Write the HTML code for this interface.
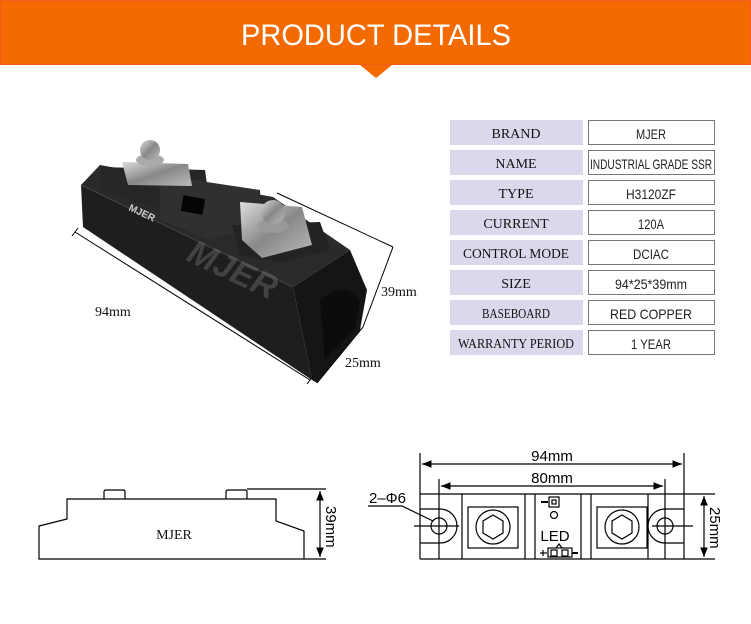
<!DOCTYPE html>
<html><head><meta charset="utf-8"><style>
html,body{margin:0;padding:0;background:#fff;}
svg{display:block;}
.lbl{font-family:"Liberation Serif",serif;font-size:14px;fill:#111;}
.val{font-family:"Liberation Sans",sans-serif;font-size:14px;fill:#222;}
.dim{font-family:"Liberation Sans",sans-serif;font-size:15px;fill:#000;}
</style></head><body>
<svg width="751" height="624" viewBox="0 0 751 624" xmlns="http://www.w3.org/2000/svg">
<defs>
<marker id="ar" viewBox="0 0 10 10" refX="10" refY="5" markerWidth="8" markerHeight="8" orient="auto-start-reverse"><path d="M0,1 L10,5 L0,9 z" fill="#000"/></marker>
<linearGradient id="met" x1="0" y1="0" x2="1" y2="1"><stop offset="0" stop-color="#ddd"/><stop offset="0.5" stop-color="#888"/><stop offset="1" stop-color="#bbb"/></linearGradient>
</defs>
<rect x="0" y="0" width="751" height="65" fill="#f26a00"/>
<rect x="0.5" y="0.5" width="750" height="64" fill="none" stroke="#f55a20" stroke-width="1"/>
<polygon points="360,65 392,65 376,78" fill="#f26a00"/>
<text x="376" y="45" text-anchor="middle" font-family="Liberation Sans,sans-serif" font-size="30" fill="#fff" textLength="270" lengthAdjust="spacingAndGlyphs">PRODUCT  DETAILS</text>

<polygon points="81,185 100,165 273,197 350,250 293,287" fill="#2a2a2a"/>
<polygon points="81,185 293,287 312,380 83,227" fill="#1e1e1e"/>
<polygon points="293,287 350,250 367,290 360,330 317,383 312,380" fill="#151515"/>
<path d="M320,300 Q345,280 360,300 L355,330 L325,360 Z" fill="#0c0c0c"/>
<line x1="81" y1="185" x2="293" y2="287" stroke="#444" stroke-width="1"/>
<polygon points="100,167 205,170 210,205 183,215 100,192" fill="#262626"/>
<polygon points="160,175 260,190 262,225 210,240 160,220" fill="#303030"/>
<rect x="182" y="197" width="22" height="16" fill="#050505" transform="rotate(10 193 205)"/>
<polygon points="122,162 188,164 192,186 128,185" fill="url(#met)"/>
<ellipse cx="150" cy="160" rx="14" ry="6" fill="#aaa"/>
<circle cx="150" cy="150" r="10" fill="url(#met)"/>
<polygon points="232,225 320,222 330,250 280,262 240,255" fill="#232323"/>
<polygon points="240,202 302,207 312,245 262,258 242,240" fill="url(#met)"/>
<ellipse cx="273" cy="226" rx="16" ry="7" fill="#999"/>
<circle cx="273" cy="212" r="12" fill="url(#met)"/>
<text x="128" y="210" font-family="Liberation Sans,sans-serif" font-size="10" font-weight="bold" fill="#ccc" transform="rotate(25 128 210)">MJER</text>
<text x="185" y="260" font-family="Liberation Sans,sans-serif" font-size="34" font-style="italic" font-weight="bold" fill="#888" fill-opacity="0.35" transform="rotate(25 185 260)">MJER</text>
<line x1="75" y1="232" x2="310" y2="380" stroke="#000" stroke-width="1"/>
<line x1="72" y1="236" x2="78" y2="228" stroke="#000"/>
<line x1="307" y1="384" x2="313" y2="376" stroke="#000"/>
<line x1="277" y1="193" x2="393" y2="247" stroke="#000"/>
<line x1="393" y1="247" x2="363" y2="327" stroke="#000"/>
<line x1="363" y1="327" x2="317" y2="383" stroke="#000"/>
<text x="95" y="316" class="lbl">94mm</text>
<text x="381" y="296" class="lbl">39mm</text>
<text x="345" y="367" class="lbl">25mm</text>

<g>
<rect x="450" y="120" width="133" height="25" fill="#dcd8ec"/><rect x="588.5" y="120.5" width="126" height="24" fill="#fff" stroke="#777"/>
<text x="516" y="138" text-anchor="middle" class="lbl">BRAND</text><text x="651" y="139" text-anchor="middle" class="val" textLength="30" lengthAdjust="spacingAndGlyphs">MJER</text>
<rect x="450" y="150" width="133" height="25" fill="#dcd8ec"/><rect x="588.5" y="150.5" width="126" height="24" fill="#fff" stroke="#777"/>
<text x="516" y="168" text-anchor="middle" class="lbl">NAME</text><text x="651" y="169" text-anchor="middle" class="val" textLength="122" lengthAdjust="spacingAndGlyphs">INDUSTRIAL GRADE SSR</text>
<rect x="450" y="180" width="133" height="25" fill="#dcd8ec"/><rect x="588.5" y="180.5" width="126" height="24" fill="#fff" stroke="#777"/>
<text x="516" y="198" text-anchor="middle" class="lbl">TYPE</text><text x="651" y="199" text-anchor="middle" class="val" textLength="50" lengthAdjust="spacingAndGlyphs">H3120ZF</text>
<rect x="450" y="210" width="133" height="25" fill="#dcd8ec"/><rect x="588.5" y="210.5" width="126" height="24" fill="#fff" stroke="#777"/>
<text x="516" y="228" text-anchor="middle" class="lbl">CURRENT</text><text x="651" y="229" text-anchor="middle" class="val" textLength="26" lengthAdjust="spacingAndGlyphs">120A</text>
<rect x="450" y="240" width="133" height="25" fill="#dcd8ec"/><rect x="588.5" y="240.5" width="126" height="24" fill="#fff" stroke="#777"/>
<text x="516" y="258" text-anchor="middle" class="lbl" textLength="106" lengthAdjust="spacingAndGlyphs">CONTROL  MODE</text><text x="651" y="259" text-anchor="middle" class="val" textLength="36" lengthAdjust="spacingAndGlyphs">DCIAC</text>
<rect x="450" y="270" width="133" height="25" fill="#dcd8ec"/><rect x="588.5" y="270.5" width="126" height="24" fill="#fff" stroke="#777"/>
<text x="516" y="288" text-anchor="middle" class="lbl">SIZE</text><text x="651" y="289" text-anchor="middle" class="val" textLength="72" lengthAdjust="spacingAndGlyphs">94*25*39mm</text>
<rect x="450" y="300" width="133" height="25" fill="#dcd8ec"/><rect x="588.5" y="300.5" width="126" height="24" fill="#fff" stroke="#777"/>
<text x="516" y="318" text-anchor="middle" class="lbl" textLength="68" lengthAdjust="spacingAndGlyphs">BASEBOARD</text><text x="651" y="319" text-anchor="middle" class="val" textLength="82" lengthAdjust="spacingAndGlyphs">RED COPPER</text>
<rect x="450" y="330" width="133" height="25" fill="#dcd8ec"/><rect x="588.5" y="330.5" width="126" height="24" fill="#fff" stroke="#777"/>
<text x="516" y="348" text-anchor="middle" class="lbl" textLength="116" lengthAdjust="spacingAndGlyphs">WARRANTY  PERIOD</text><text x="651" y="349" text-anchor="middle" class="val" textLength="40" lengthAdjust="spacingAndGlyphs">1 YEAR</text>
</g>

<g fill="none" stroke="#000" stroke-width="1.2">
<polyline points="304,559 304,531 276,521 276,499 67,499 67,519 39,526 39,559 304,559"/>
<path d="M104,499 V492 Q104,490 106,490 H123 Q125,490 125,492 V499"/>
<path d="M226,499 V492 Q226,490 228,490 H245 Q247,490 247,492 V499"/>
<line x1="247" y1="489" x2="326" y2="489"/>
<line x1="304" y1="559" x2="326" y2="559"/>
<line x1="320" y1="491" x2="320" y2="557" marker-start="url(#ar)" marker-end="url(#ar)"/>
</g>
<text x="174" y="539" text-anchor="middle" class="lbl" font-size="13">MJER</text>
<text x="0" y="0" class="dim" transform="translate(326,506) rotate(90)">39mm</text>

<g fill="none" stroke="#000" stroke-width="1.2">
<line x1="420" y1="453" x2="420" y2="559"/>
<line x1="684" y1="453" x2="684" y2="559"/>
<line x1="422" y1="464" x2="682" y2="464" marker-start="url(#ar)" marker-end="url(#ar)"/>
<line x1="439" y1="479" x2="439" y2="559"/>
<line x1="665" y1="479" x2="665" y2="559"/>
<line x1="441" y1="486" x2="663" y2="486" marker-start="url(#ar)" marker-end="url(#ar)"/>
<line x1="420" y1="494" x2="715" y2="494"/>
<line x1="420" y1="559" x2="715" y2="559"/>
<line x1="704" y1="496" x2="704" y2="557" marker-start="url(#ar)" marker-end="url(#ar)"/>
<line x1="462" y1="494" x2="462" y2="559"/>
<line x1="525" y1="494" x2="525" y2="559"/>
<line x1="535" y1="494" x2="535" y2="559"/>
<line x1="581" y1="494" x2="581" y2="559"/>
<line x1="591" y1="494" x2="591" y2="559"/>
<line x1="648" y1="494" x2="648" y2="559"/>
<path d="M420,509 H440 A17,17 0 0 1 440,543 H420"/>
<circle cx="439" cy="526" r="8"/>
<line x1="414" y1="526" x2="459" y2="526"/>
<path d="M684,509 H665 A17,17 0 0 0 665,543 H684"/>
<circle cx="665" cy="526" r="8"/>
<line x1="652" y1="526" x2="693" y2="526"/>
<rect x="468" y="507" width="50" height="41"/>
<circle cx="493" cy="527" r="17"/>
<polygon points="493,515 503,521 503,533 493,539 483,533 483,521"/>
<rect x="597" y="507" width="50" height="41"/>
<circle cx="622" cy="527" r="17"/>
<polygon points="622,515 632,521 632,533 622,539 612,533 612,521"/>
<rect x="549" y="497" width="10" height="10"/>
<rect x="552" y="500" width="4" height="4"/>
<line x1="541" y1="502" x2="548" y2="502" stroke-width="2"/>
<circle cx="554" cy="515" r="3.5"/>
<rect x="548" y="548" width="24" height="9"/>
<rect x="551" y="550" width="6" height="6"/>
<rect x="562" y="550" width="6" height="6"/>
<path d="M556,548 L559,544 L562,548"/>
<line x1="572" y1="553" x2="578" y2="553" stroke-width="2"/>
<line x1="540" y1="553" x2="547" y2="553"/>
<line x1="543" y1="550" x2="543" y2="556"/>
<polyline points="368,506 402,506 433,521"/>
</g>
<text x="555" y="541" text-anchor="middle" class="dim" font-size="17">LED</text>
<text x="369" y="503" class="dim">2–Φ6</text>
<text x="552" y="461" text-anchor="middle" class="dim">94mm</text>
<text x="552" y="483" text-anchor="middle" class="dim">80mm</text>
<text x="0" y="0" class="dim" transform="translate(710,507) rotate(90)">25mm</text>
</svg>
</body></html>
